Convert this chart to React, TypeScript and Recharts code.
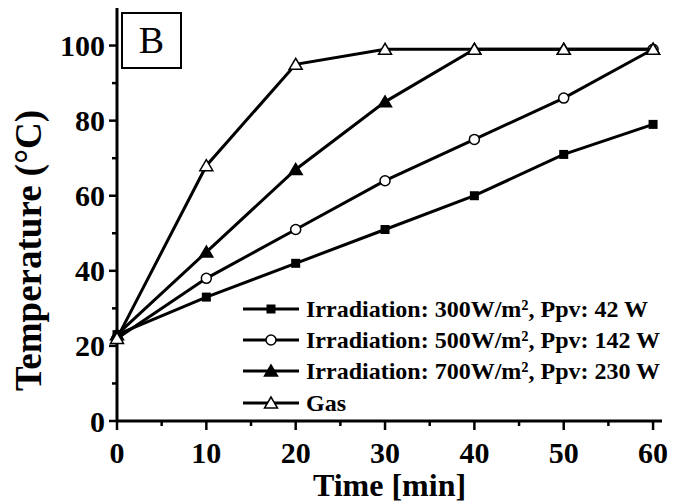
import React from "react";
import { Legend, Line, LineChart, XAxis, YAxis } from "recharts";

// Temperature vs time, one series per heating mode
const times = [0, 10, 20, 30, 40, 50, 60];
const irr300 = [23, 33, 42, 51, 60, 71, 79];
const irr500 = [22, 38, 51, 64, 75, 86, 99];
const irr700 = [23, 45, 67, 85, 99, 99, 99];
const gas = [22, 68, 95, 99, 99, 99, 99];

const seriesNames = [
  "Irradiation: 300W/m², Ppv: 42 W",
  "Irradiation: 500W/m², Ppv: 142 W",
  "Irradiation: 700W/m², Ppv: 230 W",
  "Gas",
];

const xTicks = [0, 5, 10, 15, 20, 25, 30, 35, 40, 45, 50, 55, 60];
const yTicks = [0, 10, 20, 30, 40, 50, 60, 70, 80, 90, 100];
const xLabelTicks = [0, 10, 20, 30, 40, 50, 60];
const yLabelTicks = [0, 20, 40, 60, 80, 100];

const data = times.map((t, i) => ({
  t,
  s300: irr300[i],
  s500: irr500[i],
  s700: irr700[i],
  gas: gas[i],
}));

const FONT = "'Liberation Serif', 'Times New Roman', serif";

type Shape = "square" | "circle" | "triangle" | "openTriangle";

function Marker({ cx, cy, shape }: { cx: number; cy: number; shape: Shape }) {
  if (cx == null || cy == null) return null;
  if (shape === "square") {
    return <rect x={cx - 4.5} y={cy - 4.5} width={9} height={9} fill="#000" />;
  }
  if (shape === "circle") {
    return <circle cx={cx} cy={cy} r={5} fill="#fff" stroke="#000" strokeWidth={1.5} />;
  }
  const pts = `${cx},${cy - 6} ${cx - 6.5},${cy + 5} ${cx + 6.5},${cy + 5}`;
  return (
    <polygon
      points={pts}
      fill={shape === "triangle" ? "#000" : "#fff"}
      stroke="#000"
      strokeWidth={1.5}
      strokeLinejoin="miter"
    />
  );
}

const series: { key: string; shape: Shape }[] = [
  { key: "s300", shape: "square" },
  { key: "s500", shape: "circle" },
  { key: "s700", shape: "triangle" },
  { key: "gas", shape: "openTriangle" },
];

function XTick(props: any) {
  const { x, y, payload } = props;
  const major = xLabelTicks.includes(payload.value);
  return (
    <g>
      <line x1={x} x2={x} y1={y} y2={y + (major ? 9 : 5)} stroke="#000" strokeWidth={2.5} />
      {major && (
        <text
          x={x}
          y={y + 31}
          textAnchor="middle"
          dominantBaseline="central"
          fontFamily={FONT}
          fontWeight="bold"
          fontSize={30}
          fill="#000"
        >
          {payload.value}
        </text>
      )}
    </g>
  );
}

function YTick(props: any) {
  const { x, y, payload } = props;
  const major = yLabelTicks.includes(payload.value);
  return (
    <g>
      <line x1={x} x2={x - (major ? 8 : 5)} y1={y} y2={y} stroke="#000" strokeWidth={2.5} />
      {major && (
        <text
          x={x - 12}
          y={y}
          textAnchor="end"
          dominantBaseline="central"
          fontFamily={FONT}
          fontWeight="bold"
          fontSize={30}
          fill="#000"
        >
          {payload.value}
        </text>
      )}
    </g>
  );
}

function RightTick(props: any) {
  const { x, y } = props;
  return <line x1={x} x2={x + 4} y1={y} y2={y} stroke="#000" strokeWidth={2} />;
}

function YTitle(props: any) {
  const vb = props.viewBox || { x: 0, y: 8, width: 117, height: 413 };
  const cx = vb.x + 28;
  const cy = vb.y + vb.height / 2 + 36;
  return (
    <text
      x={cx}
      y={cy}
      transform={`rotate(-90, ${cx}, ${cy})`}
      textAnchor="middle"
      dominantBaseline="central"
      fontFamily={FONT}
      fontWeight="bold"
      fontSize={37}
      fill="#000"
    >
      Temperature (°C)
    </text>
  );
}

function LegendBox() {
  return (
    <div style={{ fontFamily: FONT, fontWeight: "bold", fontSize: 24, color: "#000" }}>
      {series.map((s, i) => (
        <div key={s.key} style={{ display: "flex", alignItems: "center", height: 31.3 }}>
          <svg width={56} height={16} style={{ marginRight: 7, flex: "none" }}>
            <line x1={0} x2={56} y1={8} y2={8} stroke="#000" strokeWidth={3} />
            <Marker cx={28} cy={8} shape={s.shape} />
          </svg>
          <span style={{ whiteSpace: "nowrap", lineHeight: 1 }}>{seriesNames[i]}</span>
        </div>
      ))}
    </div>
  );
}

export default function App() {
  return (
    <div style={{ position: "absolute", left: 0, top: 0, width: 686, height: 504, background: "#fff" }}>
      <LineChart width={686} height={504} data={data} margin={{ top: 8, right: 24, bottom: 0, left: 0 }}>
        <XAxis
          dataKey="t"
          type="number"
          domain={[0, 61]}
          ticks={xTicks}
          interval={0}
          tickSize={0}
          tickMargin={0}
          tickLine={false}
          tick={XTick}
          height={83}
          axisLine={{ stroke: "#000", strokeWidth: 3 }}
          label={{
            value: "Time [min]",
            position: "insideBottom",
            offset: 8,
            fontFamily: FONT,
            fontWeight: "bold",
            fontSize: 32,
            fill: "#000",
          }}
        />
        <XAxis
          xAxisId="top"
          orientation="top"
          type="number"
          domain={[0, 61]}
          height={0}
          tick={false}
          tickLine={false}
          axisLine={{ stroke: "#000", strokeWidth: 3 }}
        />
        <YAxis
          type="number"
          domain={[0, 110]}
          ticks={yTicks}
          interval={0}
          tickSize={0}
          tickMargin={0}
          tickLine={false}
          tick={YTick}
          width={117}
          axisLine={{ stroke: "#000", strokeWidth: 3 }}
          label={YTitle}
        />
        <YAxis
          yAxisId="right"
          orientation="right"
          type="number"
          domain={[0, 110]}
          ticks={yTicks}
          interval={0}
          tickSize={0}
          tickMargin={0}
          tickLine={false}
          tick={RightTick}
          width={0}
          axisLine={{ stroke: "#000", strokeWidth: 3 }}
        />
        <Legend
          layout="vertical"
          align="center"
          verticalAlign="middle"
          content={LegendBox}
          wrapperStyle={{ left: 243, top: 293, width: "auto" }}
        />
        {series.map((s, i) => (
          <Line
            key={s.key}
            dataKey={s.key}
            name={seriesNames[i]}
            type="linear"
            stroke="#000"
            strokeWidth={3}
            dot={(p: any) => <Marker key={`${s.key}-${p.index}`} cx={p.cx} cy={p.cy} shape={s.shape} />}
            activeDot={false}
            isAnimationActive={false}
          />
        ))}
      </LineChart>
      <div
        style={{
          position: "absolute",
          left: 121,
          top: 12,
          width: 57,
          height: 53,
          border: "2px solid #000",
          background: "#fff",
          fontFamily: FONT,
          fontSize: 38,
          lineHeight: "53px",
          textAlign: "center",
        }}
      >
        B
      </div>
    </div>
  );
}
